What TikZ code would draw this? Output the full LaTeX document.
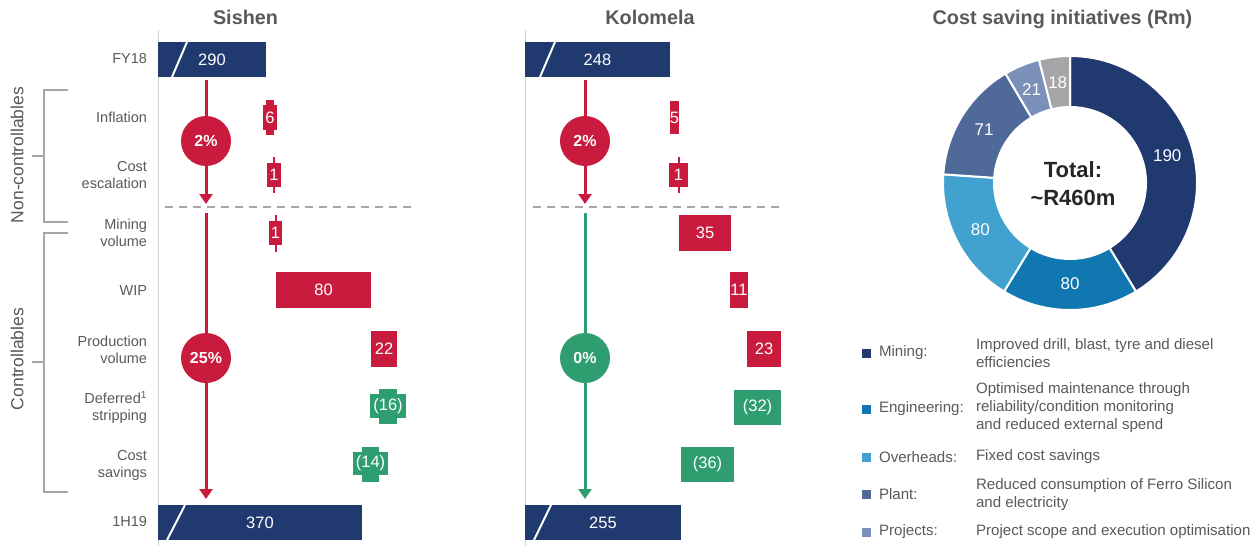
\documentclass[tikz,border=0pt]{standalone}
\usepackage{fontspec}
\setmainfont{Liberation Sans}
\usetikzlibrary{arrows.meta}
\definecolor{navy}{RGB}{32,57,110}
\definecolor{cred}{RGB}{200,27,62}
\definecolor{cgrn}{RGB}{46,158,112}
\definecolor{tgrey}{RGB}{89,89,89}
\definecolor{tdark}{RGB}{38,38,38}
\definecolor{lgrey}{RGB}{166,166,166}
\definecolor{axgrey}{RGB}{210,210,210}
\definecolor{cEng}{RGB}{17,119,176}
\definecolor{cOvh}{RGB}{65,162,207}
\definecolor{cPlant}{RGB}{79,106,152}
\definecolor{cProj}{RGB}{122,144,184}
\definecolor{cOther}{RGB}{166,166,168}
\begin{document}
\begin{tikzpicture}[x=1pt,y=-1pt,
  every node/.style={inner sep=0pt, outer sep=0pt},
  box/.style={fill=navy, text=white, font=\fontsize{16.5}{16.5}\selectfont},
  rbox/.style={box, fill=cred},
  gbox/.style={box, fill=cgrn},
  rowlab/.style={text=tgrey, font=\fontsize{14.5}{17}\selectfont, align=right, anchor=east},
  pct/.style={circle, text=white, font=\bfseries\fontsize{16}{16}\selectfont, minimum size=50pt},
  ttl/.style={text=tgrey, anchor=base, font=\bfseries\fontsize{19.8}{20}\selectfont},
  axis/.style={draw=axgrey, line width=1pt},
  sep/.style={draw=lgrey, line width=1.5pt, dash pattern=on 8pt off 6pt},
  brk/.style={draw=lgrey, line width=2.5pt},
  flow/.style={line width=3pt, -{Triangle[width=13pt,length=10pt]}},
  slash/.style={draw=white, line width=2pt},
  lgsq/.style={minimum size=9pt},
  lglab/.style={anchor=west, text=tgrey, font=\fontsize{15.1}{18}\selectfont},
  lgdesc/.style={anchor=west, align=left, text=tgrey, font=\fontsize{15.1}{18}\selectfont},
  dlab/.style={text=white, font=\fontsize{17}{17}\selectfont},
  sidelab/.style={rotate=90, text=tgrey, font=\fontsize{17.5}{17.5}\selectfont},
]
\useasboundingbox (0,0) rectangle (1258,546);

% titles
\node[ttl] (tS) at (245.5,24) {Sishen};
\node[ttl] (tK) at (650,24) {Kolomela};
\node[ttl] (tC) at (1062.5,24) {Cost saving initiatives (Rm)};

% axes
\coordinate (sx1) at (158,30); \coordinate (sx2) at (158,546);
\coordinate (kx1) at (525,30); \coordinate (kx2) at (525,546);
\draw[axis] (sx1) -- (sx2);
\draw[axis] (kx1) -- (kx2);

% separators
\coordinate (ss1) at (165,207); \coordinate (ss2) at (412,207);
\coordinate (ks1) at (533,207); \coordinate (ks2) at (780,207);
\draw[sep] (ss1) -- (ss2);
\draw[sep] (ks1) -- (ks2);

% brackets
\coordinate (b1a) at (68,90); \coordinate (b1b) at (44,90); \coordinate (b1c) at (44,222); \coordinate (b1d) at (68,222);
\coordinate (b1m) at (44,156); \coordinate (b1t) at (32,156);
\draw[brk] (b1a) -- (b1b) -- (b1c) -- (b1d);
\draw[brk] (b1m) -- (b1t);
\coordinate (b2a) at (68,233); \coordinate (b2b) at (44,233); \coordinate (b2c) at (44,492); \coordinate (b2d) at (68,492);
\coordinate (b2m) at (44,362); \coordinate (b2t) at (32,362);
\draw[brk] (b2a) -- (b2b) -- (b2c) -- (b2d);
\draw[brk] (b2m) -- (b2t);
\node[sidelab] (ncl) at (17,155) {Non-controllables};
\node[sidelab] (cl) at (17,359) {Controllables};

% row labels
\node[rowlab] (lFY) at (147,59) {FY18};
\node[rowlab] (lInf) at (147,117) {Inflation};
\node[rowlab] (lCe) at (147,175) {Cost\\escalation};
\node[rowlab] (lMv) at (147,233) {Mining\\volume};
\node[rowlab] (lWip) at (147,291) {WIP};
\node[rowlab] (lPv) at (147,349.5) {Production\\volume};
\node[rowlab] (lDs) at (147,407.5) {Deferred\textsuperscript{1}\\stripping};
\node[rowlab] (lCs) at (147,465) {Cost\\savings};
\node[rowlab] (lH) at (147,522) {1H19};

% ---------- Sishen ----------
\node[box, minimum width=108pt, minimum height=35pt] (sFY) at (212,59.5) {290};
\coordinate (sFYa) at (172,77); \coordinate (sFYb) at (187,42);
\draw[slash] (sFYa) -- (sFYb);

\node[rbox, minimum width=8pt, minimum height=35pt] (sInfN) at (270,117.5) {};
\node[rbox, minimum width=14pt, minimum height=25pt] (sInf) at (270,117.5) {6};

\node[rbox, minimum width=2pt, minimum height=36pt] (sCeW) at (274,175) {};
\node[rbox, minimum width=14pt, minimum height=24pt] (sCe) at (274,175) {1};

\node[rbox, minimum width=2pt, minimum height=37pt] (sMvW) at (275.5,233.5) {};
\node[rbox, minimum width=13pt, minimum height=24pt] (sMv) at (275.5,233) {1};

\node[rbox, minimum width=95pt, minimum height=36pt] (sWip) at (323.5,290) {80};
\node[rbox, minimum width=26pt, minimum height=36pt] (sPv) at (384,349) {22};

\node[gbox, minimum width=18pt, minimum height=35pt] (sDsN) at (388,406.5) {};
\node[gbox, minimum width=36pt, minimum height=24pt] (sDs) at (388,406) {(16)};

\node[gbox, minimum width=17pt, minimum height=35pt] (sCsN) at (370.5,464.5) {};
\node[gbox, minimum width=35pt, minimum height=23pt] (sCs) at (370.5,463.5) {(14)};

\node[box, minimum width=204pt, minimum height=35pt] (sH) at (260,522.5) {370};
\coordinate (sHa) at (167,540); \coordinate (sHb) at (185,505);
\draw[slash] (sHa) -- (sHb);

\coordinate (sa1) at (206,80); \coordinate (sa2) at (206,204);
\draw[flow, cred] (sa1) -- (sa2);
\node[pct, fill=cred] (sp1) at (206,141) {2\%};
\coordinate (sb1) at (206,213); \coordinate (sb2) at (206,499);
\draw[flow, cred] (sb1) -- (sb2);
\node[pct, fill=cred] (sp2) at (206,358) {25\%};

% ---------- Kolomela ----------
\node[box, minimum width=145pt, minimum height=35pt] (kFY) at (597.5,59.5) {248};
\coordinate (kFYa) at (540,77); \coordinate (kFYb) at (555,42);
\draw[slash] (kFYa) -- (kFYb);

\node[rbox, minimum width=9pt, minimum height=33pt] (kInf) at (674.5,117.5) {5};

\node[rbox, minimum width=2pt, minimum height=36pt] (kCeW) at (678.5,175) {};
\node[rbox, minimum width=19pt, minimum height=24pt] (kCe) at (678.5,175) {1};

\node[rbox, minimum width=52pt, minimum height=36pt] (kMv) at (705,233) {35};
\node[rbox, minimum width=16pt, minimum height=36pt] (kWip) at (739,290) {11};
\node[rbox, minimum width=34pt, minimum height=36pt] (kPv) at (764,349) {23};
\node[gbox, minimum width=47pt, minimum height=35pt] (kDs) at (757.5,407.5) {(32)};
\node[gbox, minimum width=53pt, minimum height=35pt] (kCs) at (707.5,464.5) {(36)};

\node[box, minimum width=156pt, minimum height=35pt] (kH) at (603,522.5) {255};
\coordinate (kHa) at (534,540); \coordinate (kHb) at (551,505);
\draw[slash] (kHa) -- (kHb);

\coordinate (ka1) at (585,80); \coordinate (ka2) at (585,204);
\draw[flow, cred] (ka1) -- (ka2);
\node[pct, fill=cred] (kp1) at (585,141) {2\%};
\coordinate (kb1) at (585,213); \coordinate (kb2) at (585,499);
\draw[flow, cgrn] (kb1) -- (kb2);
\node[pct, fill=cgrn] (kp2) at (585,358) {0\%};

% ---------- Donut ----------
\coordinate (dc) at (1070,183);
\foreach \a/\b/\c in {90/-58.70/navy, -58.70/-121.30/cEng, -121.30/-183.91/cOvh, -183.91/-239.48/cPlant, -239.48/-255.91/cProj, -255.91/-270/cOther} {
  \path[fill=\c, draw=white, line width=2pt] ([shift={(\a:127pt)}]dc) arc[start angle=\a, end angle=\b, radius=127pt] -- ([shift={(\b:76pt)}]dc) arc[start angle=\b, end angle=\a, radius=76pt] -- cycle;
}
\node[dlab] (dv1) at ([shift={(15.65:101pt)}]dc) {190};
\node[dlab] (dv2) at ([shift={(-90:101pt)}]dc) {80};
\node[dlab] (dv3) at ([shift={(-152.6:101pt)}]dc) {80};
\node[dlab] (dv4) at ([shift={(-211.7:101pt)}]dc) {71};
\node[dlab] (dv5) at ([shift={(-247.7:101pt)}]dc) {21};
\node[dlab] (dv6) at ([shift={(-263:101pt)}]dc) {18};
\node[text=tdark, align=center, font=\bfseries\fontsize{22}{28}\selectfont] (tot) at (1073,184) {Total:\\\textasciitilde R460m};

% ---------- Legend ----------
\node[lgsq, fill=navy] (q1) at (866,353) {};
\node[lglab] (n1) at (879,353) {Mining:};
\node[lgdesc] (d1) at (976,353.5) {Improved drill, blast, tyre and diesel\\efficiencies};
\node[lgsq, fill=cEng] (q2) at (866,409) {};
\node[lglab] (n2) at (879,409) {Engineering:};
\node[lgdesc] (d2) at (976,408) {Optimised maintenance through\\reliability/condition monitoring\\and reduced external spend};
\node[lgsq, fill=cOvh] (q3) at (866,457) {};
\node[lglab] (n3) at (879,457) {Overheads:};
\node[lgdesc] (d3) at (976,457) {Fixed cost savings};
\node[lgsq, fill=cPlant] (q4) at (866,494) {};
\node[lglab] (n4) at (879,494) {Plant:};
\node[lgdesc] (d4) at (976,494.5) {Reduced consumption of Ferro Silicon\\and electricity};
\node[lgsq, fill=cProj] (q5) at (866,532) {};
\node[lglab] (n5) at (879,532) {Projects:};
\node[lgdesc] (d5) at (976,532) {Project scope and execution optimisation};
\end{tikzpicture}
\end{document}
